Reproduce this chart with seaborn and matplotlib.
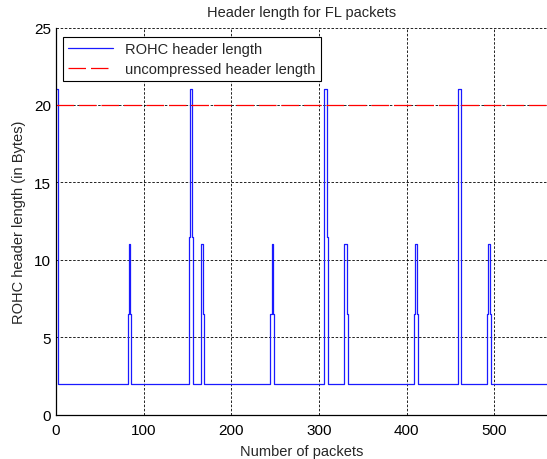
import pandas as pd
import matplotlib
matplotlib.use("Agg")
import matplotlib.pyplot as plt
import seaborn as sns

# step change points of the ROHC header length (packet index, bytes)
packet_idx = [0, 2, 3, 82, 83, 85, 86, 152, 153, 155, 156, 165, 166, 168, 169,
              244, 246, 248, 249, 306, 309, 310, 328, 329, 332, 333,
              408, 409, 412, 413, 458, 459, 462, 492, 493, 495, 496, 560]
rohc_len = [21, 11.5, 2, 6.5, 11, 6.5, 2, 11.5, 21, 11.5, 2, 6.5, 11, 6.5, 2,
            6.5, 11, 6.5, 2, 21, 11.5, 2, 6.5, 11, 6.5, 2,
            6.5, 11, 6.5, 2, 11.5, 21, 2, 6.5, 11, 6.5, 2, 2]

# uncompressed header length
unc_idx = [0, 560]
unc_len = [20, 20]

xticks = [0, 100, 200, 300, 400, 500]
yticks = [0, 5, 10, 15, 20, 25]

sns.set_style("white")
plt.rcParams["font.family"] = ["Liberation Sans", "DejaVu Sans"]
plt.rcParams["font.size"] = 10.5

df_rohc = pd.DataFrame({"packet": packet_idx, "len": rohc_len})
df_unc = pd.DataFrame({"packet": unc_idx, "len": unc_len})

fig = plt.figure(figsize=(5.47, 4.6), dpi=100)
ax = fig.add_axes([0.102, 0.096, 0.898, 0.842])

sns.lineplot(data=df_rohc, x="packet", y="len", ax=ax, estimator=None,
             drawstyle="steps-post", color="#1a1aff", lw=0.9,
             label="ROHC header length")
sns.lineplot(data=df_unc, x="packet", y="len", ax=ax, estimator=None,
             color="#ff0000", lw=0.9, dashes=False,
             label="uncompressed header length")
ax.lines[-1].set_dashes((14, 4))

ax.set_xlim(0, 560)
ax.set_ylim(0, 25)
ax.set_xticks(xticks)
ax.set_yticks(yticks)
ax.grid(True, color="black", linestyle=(0, (3, 2)), lw=0.6)
ax.set_axisbelow(True)

for s in ["top", "right"]:
    ax.spines[s].set_visible(False)
for s in ["left", "bottom"]:
    ax.spines[s].set_color("black")
    ax.spines[s].set_linewidth(0.9)
ax.tick_params(direction="in", length=3, colors="black", labelsize=11)
ax.tick_params(axis="x", pad=6)

ax.set_title("Header length for FL packets", fontsize=10.5, pad=8)
ax.set_xlabel("Number of packets", fontsize=10.5, labelpad=5)
ax.set_ylabel("ROHC header length (in Bytes)", fontsize=10.5, labelpad=6)

leg = ax.legend(loc="upper left", bbox_to_anchor=(0.015, 0.976), fancybox=False,
                edgecolor="black", framealpha=1, handlelength=3.1,
                borderpad=0.35, labelspacing=0.4, borderaxespad=0,
                fontsize=10.5)
leg.get_frame().set_linewidth(0.8)

fig.savefig("out.png", dpi=100)
